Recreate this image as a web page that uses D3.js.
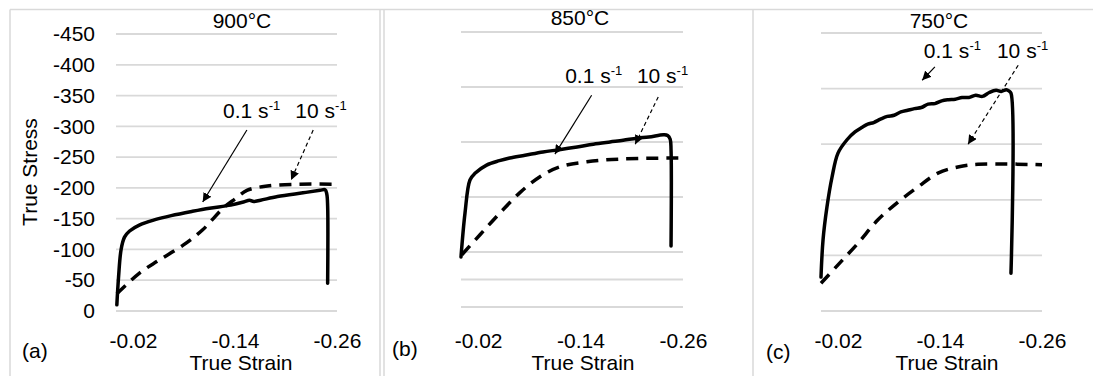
<!DOCTYPE html>
<html>
<head>
<meta charset="utf-8">
<script src="https://cdn.jsdelivr.net/npm/d3@7"></script>
<style>
  body { margin: 0; background: #fff; }
  svg { display: block; font-family: "Liberation Sans", Arial, sans-serif; }
  .tick text { font-size: 21px; fill: #000; }
</style>
</head>
<body>
<svg id="chart" width="1093" height="376"></svg>
<script>
// temperatures / panel letters
var temps = ["900°C", "850°C", "750°C"];
var letters = ["(a)", "(b)", "(c)"];
var strainTicks = [-0.02, -0.14, -0.26];
var stressTicks900 = [0, -50, -100, -150, -200, -250, -300, -350, -400, -450];
var grid850 = [0, -50, -100, -200, -300, -400, -500];
var grid750 = [0, -100, -200, -300, -400, -500];

// [true strain, true stress]
var slow900 = [[-0.001,-10],[-0.003,-55],[-0.006,-100],[-0.010,-120],[-0.016,-130],[-0.028,-140],[-0.045,-148],
  [-0.065,-155],[-0.09,-162],[-0.11,-167],[-0.135,-172],[-0.15,-177],[-0.157,-180],[-0.162,-178],[-0.17,-180],
  [-0.19,-186],[-0.22,-192],[-0.24,-196],[-0.246,-197],[-0.248,-190],[-0.249,-170],[-0.249,-45]];
var fast900 = [[-0.001,-28],[-0.028,-62],[-0.05,-82],[-0.079,-107],[-0.102,-132],[-0.126,-167],[-0.14,-182],
  [-0.154,-196],[-0.178,-203],[-0.216,-206],[-0.26,-206]];

var slow850 = [[0,-91],[-0.0047,-171],[-0.0105,-231],[-0.0164,-243],[-0.03,-258],[-0.045,-266],[-0.057,-271],
  [-0.075,-276],[-0.096,-282],[-0.115,-286],[-0.136,-291],[-0.155,-296],[-0.1745,-300],[-0.19,-303],[-0.206,-307],
  [-0.22,-309],[-0.237,-313],[-0.242,-312],[-0.245,-305],[-0.246,-285],[-0.246,-111]];
var fast850 = [[-0.001,-95],[-0.022,-131],[-0.0457,-171],[-0.069,-208],[-0.0925,-237],[-0.116,-255],
  [-0.1475,-264],[-0.186,-269],[-0.26,-271]];

var slow750 = [[0,-61],[-0.0024,-128],[-0.007,-187],[-0.013,-241],[-0.02,-284],[-0.0306,-308],[-0.04,-322],
  [-0.048,-330],[-0.055,-336],[-0.062,-339],[-0.07,-345],[-0.078,-350],[-0.086,-352],[-0.094,-358],[-0.102,-361],
  [-0.11,-364],[-0.118,-366],[-0.126,-372],[-0.134,-373],[-0.142,-378],[-0.15,-380],[-0.158,-381],[-0.166,-384],
  [-0.174,-384],[-0.182,-388],[-0.19,-386],[-0.198,-393],[-0.206,-397],[-0.212,-395],[-0.218,-398],[-0.221,-396],
  [-0.2235,-392],[-0.2235,-68]];
var fast750 = [[0,-50],[-0.02,-83],[-0.0435,-122],[-0.067,-164],[-0.0906,-196],[-0.114,-223],[-0.1376,-248],
  [-0.161,-259],[-0.1847,-264],[-0.26,-263]];

// arrows: [from strain, from stress, to strain, to stress]
var arrowSlow = [[-0.154,-294,-0.102,-177],[-0.153,-385,-0.110,-278],[-0.134,-439,-0.119,-415]];
var arrowFast = [[-0.232,-294,-0.206,-213],[-0.231,-382,-0.204,-296],[-0.232,-442,-0.173,-300]];
// label anchors [strain, stress]
var labelSlow = [[-0.126,-313],[-0.122,-407],[-0.121,-455]];
var labelFast = [[-0.211,-313],[-0.206,-407],[-0.207,-455]];

var svg = d3.select("#chart");

svg.append("defs").append("marker")
    .attr("id", "head")
    .attr("viewBox", "0 0 10 10")
    .attr("refX", 10).attr("refY", 5)
    .attr("markerWidth", 9).attr("markerHeight", 9)
    .attr("markerUnits", "userSpaceOnUse")
    .attr("orient", "auto")
  .append("path").attr("d", "M0,0L10,5L0,10z").attr("fill", "#000");

// panel frames
var frame = svg.append("g").attr("stroke", "#d9d9d9").attr("stroke-width", 1.5).attr("fill", "none");
frame.append("line").attr("x1", 10).attr("x2", 1093).attr("y1", 9.5).attr("y2", 9.5);
[10, 380, 384, 753].forEach(function(x) {
  frame.append("line").attr("x1", x).attr("x2", x).attr("y1", 9.5).attr("y2", 376);
});

var panels = [
  {slow: slow900, fast: fast900, xr: [116, 337], yr: [311, 34], ymin: -450, grid: stressTicks900,
   title: [242, 28], letter: [22, 358], xtitle: 241},
  {slow: slow850, fast: fast850, xr: [461, 683], yr: [307, 32], ymin: -500, grid: grid850,
   title: [580, 25], letter: [392, 356], xtitle: 583},
  {slow: slow750, fast: fast750, xr: [821, 1042], yr: [311, 33], ymin: -500, grid: grid750,
   title: [939, 28], letter: [766, 359], xtitle: 947}
];

panels.forEach(function(p, i) {
  var x = d3.scaleLinear().domain([0, -0.26]).range(p.xr),
      y = d3.scaleLinear().domain([0, p.ymin]).range(p.yr),
      g = svg.append("g");

  // gridlines
  g.selectAll(".grid").data(p.grid).enter().append("line")
      .attr("x1", p.xr[0]).attr("x2", p.xr[1])
      .attr("y1", function(d) { return y(d); }).attr("y2", function(d) { return y(d); })
      .attr("stroke", "#d9d9d9").attr("stroke-width", 1.8);

  // x axis labels
  g.append("g")
      .attr("transform", "translate(0,333)")
      .call(d3.axisBottom(x).tickValues(strainTicks).tickSize(0).tickPadding(0)
        .tickFormat(function(d) { return d.toFixed(2); }))
      .call(function(a) { a.select(".domain").remove(); });

  g.append("text").attr("x", p.xtitle).attr("y", 370)
      .attr("text-anchor", "middle").attr("font-size", 21).text("True Strain");
  g.append("text").attr("x", p.title[0]).attr("y", p.title[1])
      .attr("text-anchor", "middle").attr("font-size", 21).text(temps[i]);
  g.append("text").attr("x", p.letter[0]).attr("y", p.letter[1])
      .attr("font-size", 21).text(letters[i]);

  if (i === 0) {
    g.append("g")
        .attr("transform", "translate(" + p.xr[0] + ",0)")
        .call(d3.axisLeft(y).tickValues(stressTicks900).tickSize(0).tickPadding(21)
          .tickFormat(function(d) { return String(d); }))
        .call(function(a) { a.select(".domain").remove(); });
    g.append("text")
        .attr("transform", "translate(37,172) rotate(-90)")
        .attr("text-anchor", "middle").attr("font-size", 21).text("True Stress");
  }

  var line = d3.line()
      .x(function(d) { return x(d[0]); })
      .y(function(d) { return y(d[1]); })
      .curve(d3.curveCatmullRom.alpha(0.5));

  g.append("path").datum(p.fast).attr("d", line)
      .attr("fill", "none").attr("stroke", "#000").attr("stroke-width", 3.5)
      .attr("stroke-dasharray", "12,8");
  g.append("path").datum(p.slow).attr("d", line)
      .attr("fill", "none").attr("stroke", "#000").attr("stroke-width", 3.5)
      .attr("stroke-linejoin", "round").attr("stroke-linecap", "round");

  // annotations
  var as = arrowSlow[i], af = arrowFast[i];
  g.append("line")
      .attr("x1", x(as[0])).attr("y1", y(as[1])).attr("x2", x(as[2])).attr("y2", y(as[3]))
      .attr("stroke", "#000").attr("stroke-width", 1.2).attr("marker-end", "url(#head)");
  g.append("line")
      .attr("x1", x(af[0])).attr("y1", y(af[1])).attr("x2", x(af[2])).attr("y2", y(af[3]))
      .attr("stroke", "#000").attr("stroke-width", 1.2).attr("stroke-dasharray", "4,3")
      .attr("marker-end", "url(#head)");

  [[labelSlow[i], "0.1 s"], [labelFast[i], "10 s"]].forEach(function(l) {
    var t = g.append("text").attr("x", x(l[0][0])).attr("y", y(l[0][1])).attr("font-size", 21);
    t.append("tspan").text(l[1]);
    t.append("tspan").attr("font-size", 13).attr("dy", -8).text("-1");
  });
});
</script>
</body>
</html>
